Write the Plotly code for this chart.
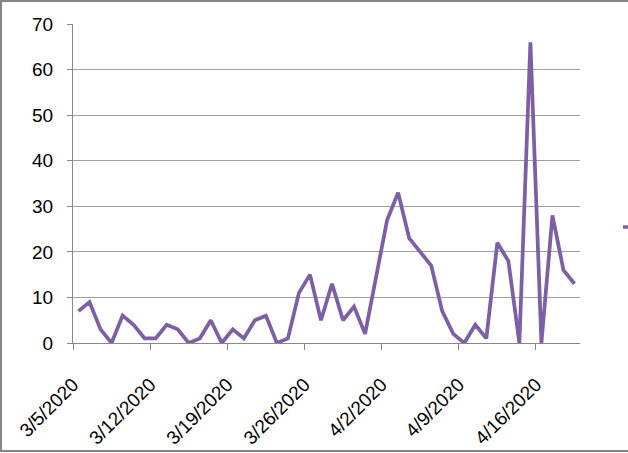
import pandas as pd
import plotly.graph_objects as go

start_date = "2020-03-05"
values = [7, 9, 3, 0, 6, 4, 1, 1, 4, 3, 0, 1, 5, 0, 3, 1, 5, 6, 0, 1,
          11, 15, 5, 13, 5, 8, 2, 15, 27, 33, 23, 20, 17, 7, 2, 0, 4, 1,
          22, 18, 0, 66, 0, 28, 16, 13]
tick_dates = ["2020-03-05", "2020-03-12", "2020-03-19", "2020-03-26",
              "2020-04-02", "2020-04-09", "2020-04-16"]
y_ticks = [0, 10, 20, 30, 40, 50, 60, 70]

days = pd.date_range(start_date, periods=len(values), freq="D")
# Excel date axis centres each point in its day bin
x = days + pd.Timedelta(hours=12)
end_date = days[-1] + pd.Timedelta(days=1)

W, H = 628, 453
ml, mr, mt, mb = 73, 48, 24, 110
pw, ph = W - ml - mr, H - mt - mb

fig = go.Figure()
fig.add_trace(go.Scatter(
    x=x, y=values, mode="lines",
    line=dict(color="#7D5FA6", width=3.75),
    hoverinfo="skip", showlegend=False,
))

font = dict(family="Liberation Sans, Arial, sans-serif", size=19, color="#000000")

fig.update_layout(
    width=W, height=H,
    margin=dict(l=ml, r=mr, t=mt, b=mb, pad=0, autoexpand=False),
    paper_bgcolor="white", plot_bgcolor="white",
    font=font,
    xaxis=dict(
        type="date",
        range=[days[0], end_date],
        tickvals=tick_dates,
        tickformat="%-m/%-d/%Y",
        tickangle=-45,
        ticks="outside", ticklen=6, tickcolor="#888888", tickwidth=1,
        ticklabelstandoff=16,
        showgrid=False, zeroline=False,
        showline=True, linecolor="#888888", linewidth=1,
        tickfont=font, automargin=False,
    ),
    yaxis=dict(
        range=[0, 70],
        tickvals=y_ticks,
        ticks="outside", ticklen=5, tickcolor="#888888", tickwidth=1,
        ticklabelstandoff=10,
        showgrid=True, gridcolor="#A0A0A0", gridwidth=1,
        zeroline=False,
        showline=True, linecolor="#888888", linewidth=1,
        tickfont=font, automargin=False,
    ),
    shapes=[
        # outer chart border
        dict(type="rect", xref="paper", yref="paper",
             x0=(1 - ml) / pw, x1=(W + 20 - ml) / pw,
             y0=(ph + mt - 451) / ph, y1=(ph + mt - 1) / ph,
             line=dict(color="#868686", width=2), fillcolor="rgba(0,0,0,0)"),
        # truncated legend key
        dict(type="line", xref="paper", yref="paper",
             x0=(623 - ml) / pw, x1=(W + 5 - ml) / pw,
             y0=(ph + mt - 227) / ph, y1=(ph + mt - 227) / ph,
             line=dict(color="#7D5FA6", width=3.5)),
    ],
)

fig.write_html("out.html", config={"displayModeBar": False},
               post_script="document.body.style.margin='0';")
